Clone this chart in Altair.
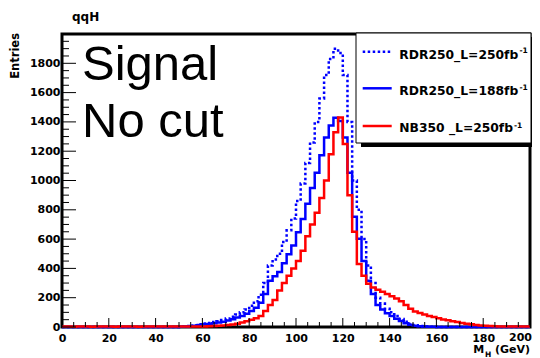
import altair as alt
import pandas as pd

# ---- data (2 GeV bins from 0 to 200) ----
bin_lo = list(range(0, 200, 2))

rdr250_250 = [0] * 25 + [
    2, 4, 8, 12, 18, 24, 28, 34, 40, 48,
    58, 70, 85, 100, 120, 145, 175, 220, 300, 420,
    460, 500, 580, 660, 740, 860, 980, 1120, 1260, 1400,
    1560, 1720, 1830, 1900, 1870, 1720, 1400, 1000, 800, 600,
    420, 300, 200, 160, 125, 100, 75, 55, 35, 20,
    12, 7, 4, 2, 1] + [0] * 20

rdr250_188 = [0] * 25 + [
    2, 3, 6, 9, 14, 18, 21, 26, 30, 36,
    44, 53, 64, 75, 90, 109, 132, 165, 226, 316,
    346, 376, 436, 496, 556, 647, 737, 842, 948, 1053,
    1173, 1293, 1376, 1429, 1406, 1293, 1053, 752, 602, 451,
    316, 226, 150, 120, 94, 75, 56, 41, 26, 15,
    9, 5, 3, 2, 1] + [0] * 20

nb350_250 = [
    3, 3, 2, 3, 3, 3, 2, 3, 3, 3,
    3, 2, 3, 3, 3, 3, 2, 3, 3, 3,
    3, 3, 3, 3, 3, 3, 3, 3, 3, 3,
    4, 5, 6, 8, 10, 13, 17, 22, 30, 40,
    50, 60, 75, 110, 150, 185, 250, 300, 350, 400,
    450, 520, 620, 700, 780, 880, 1000, 1180, 1330, 1430,
    1250, 900, 650, 430, 350, 295, 270, 255, 240, 225,
    210, 195, 175, 150, 125, 105, 95, 85, 75, 68,
    60, 52, 46, 40, 34, 28, 22, 18, 14, 10,
    8, 6, 5, 4, 4, 4, 4, 4, 4, 4]

series_names = ["RDR250_L=250fb", "RDR250_L=188fb", "NB350 _L=250fb"]
x_major = list(range(0, 201, 20))
x_minor = [v for v in range(0, 201, 5) if v % 20]
y_major = list(range(0, 1801, 200))
y_minor = [v for v in range(0, 2001, 50) if v % 200]

W, H = 468, 293
FONT = "DejaVu Sans"

xs = alt.Scale(domain=[0, 200], nice=False, zero=False)
ys = alt.Scale(domain=[0, 2000], nice=False)
xaxis = alt.Axis(values=x_major[:-1], title=None, grid=False, ticks=False, tickSize=0,
                 domain=False, format="d",
                 labelFont=FONT, labelFontWeight="bold", labelFontSize=11,
                 labelPadding=5, labelFlush=False, labelOverlap=False, labelColor="black")
yaxis = alt.Axis(values=y_major, title=None, grid=False, ticks=False, tickSize=0,
                 domain=False, format="d",
                 labelFont=FONT, labelFontWeight="bold", labelFontSize=11,
                 labelPadding=2, labelFlush=False, labelOverlap=False, labelColor="black")


def hist(vals, color, dash=None):
    df = pd.DataFrame({"x": bin_lo + [200], "y": vals + [vals[-1]]})
    kw = dict(color=color, strokeWidth=2.5, interpolate="step-after")
    if dash:
        kw["strokeDash"] = dash
    return alt.Chart(df).mark_line(**kw).encode(
        x=alt.X("x:Q", scale=xs, axis=xaxis),
        y=alt.Y("y:Q", scale=ys, axis=yaxis),
    )


h1 = hist(rdr250_250, "#0000ff", [2.5, 2.5])
h2 = hist(rdr250_188, "#0000ff")
h3 = hist(nb350_250, "#ff0000")

# inward axis ticks
xt_major = alt.Chart(pd.DataFrame({"x": x_major})).mark_rule(color="black", strokeWidth=1).encode(
    x=alt.X("x:Q", scale=xs, axis=xaxis), y=alt.value(H), y2=alt.value(H - 9))
xt_minor = alt.Chart(pd.DataFrame({"x": x_minor})).mark_rule(color="black", strokeWidth=1).encode(
    x=alt.X("x:Q", scale=xs, axis=xaxis), y=alt.value(H), y2=alt.value(H - 5))
yt_major = alt.Chart(pd.DataFrame({"y": y_major})).mark_rule(color="black", strokeWidth=1).encode(
    y=alt.Y("y:Q", scale=ys, axis=yaxis), x=alt.value(0), x2=alt.value(14))
yt_minor = alt.Chart(pd.DataFrame({"y": y_minor})).mark_rule(color="black", strokeWidth=1).encode(
    y=alt.Y("y:Q", scale=ys, axis=yaxis), x=alt.value(0), x2=alt.value(7))

# last x label (kept inside the page edge)
x_last = alt.Chart(pd.DataFrame({"x": [x_major[-1]]})).mark_text(
    font=FONT, fontSize=11, fontWeight="bold", align="right", baseline="top", dx=2, color="black"
).encode(x=alt.X("x:Q", scale=xs, axis=xaxis), y=alt.value(H + 5), text=alt.Text("x:Q", format="d"))

one = pd.DataFrame({"a": [0]})


def txt(s, x, y, size, weight="bold", font=FONT, align="left", angle=0, baseline="alphabetic"):
    kw = dict(font=font, fontSize=size, fontWeight=weight, align=align,
              baseline=baseline, color="black")
    if angle:
        kw["angle"] = angle
    return alt.Chart(one).mark_text(**kw).encode(
        x=alt.value(x), y=alt.value(y), text=alt.value(s))


# legend box with shadow
shadow = alt.Chart(one).mark_rect(color="black").encode(
    x=alt.value(299), x2=alt.value(473), y=alt.value(3), y2=alt.value(113))
box = alt.Chart(one).mark_rect(fill="white", stroke="black", strokeWidth=1).encode(
    x=alt.value(294), x2=alt.value(469), y=alt.value(-1), y2=alt.value(109))
l1 = alt.Chart(one).mark_rule(color="#0000ff", strokeWidth=2.5, strokeDash=[2.5, 2.5]).encode(
    x=alt.value(300.7), x2=alt.value(329.7), y=alt.value(17.7))
l2 = alt.Chart(one).mark_rule(color="#0000ff", strokeWidth=2.5).encode(
    x=alt.value(300.7), x2=alt.value(329.7), y=alt.value(54.3))
l3 = alt.Chart(one).mark_rule(color="#ff0000", strokeWidth=2.5).encode(
    x=alt.value(300.7), x2=alt.value(329.7), y=alt.value(92))

texts = [
    txt(series_names[0], 337.3, 24.7, 12.3),
    txt("-1", 457.5, 19.3, 7.5),
    txt(series_names[1], 337.3, 61, 12.3),
    txt("-1", 457.5, 56, 7.5),
    txt(series_names[2], 337.3, 97.7, 12.3),
    txt("-1", 452, 94.3, 7.5),
    txt("Signal", 20, 46, 49, weight="normal", font="Liberation Sans"),
    txt("No cut", 20, 102.7, 49, weight="normal", font="Liberation Sans"),
    txt("qqH", 10, -13.3, 12),
    txt("Entries", -46, -1, 11.5, align="right", angle=270, baseline="middle"),
    txt("M", 411.3, 319, 11),
    txt("H", 423, 322.7, 7.5),
    txt("(GeV)", 433, 319, 11),
]

chart = alt.layer(
    h1, h2, h3, xt_minor, xt_major, yt_minor, yt_major, x_last,
    shadow, box, l1, l2, l3, *texts
).properties(
    width=W, height=H,
    autosize=alt.AutoSizeParams(type="none"),
    padding={"left": 54, "top": 26, "right": 2, "bottom": 32},
    background="white",
).configure_view(stroke="black", strokeWidth=3)

chart.save("out.html", embed_options={"renderer": "svg", "actions": False})
